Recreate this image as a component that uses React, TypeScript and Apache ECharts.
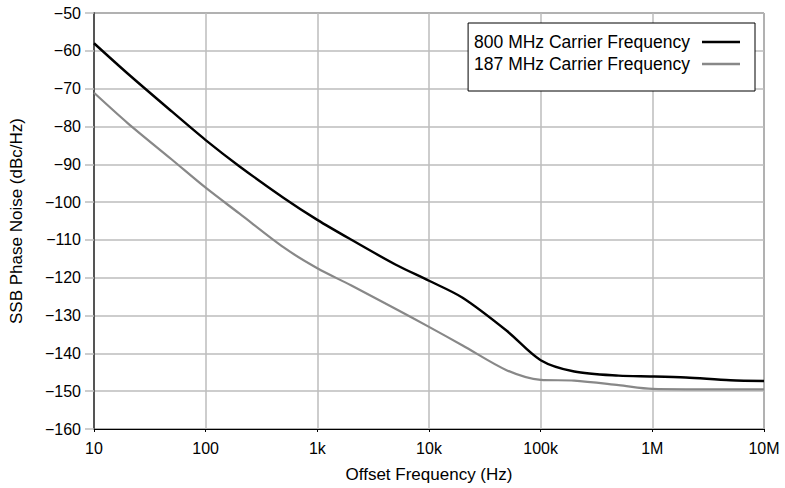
import React, { useEffect, useRef } from "react";
import * as echarts from "echarts";

const FONT = "'Liberation Sans', Arial, Helvetica, sans-serif";

const freqs = [10, 20, 50, 100, 200, 500, 1000, 2000, 5000, 10000, 20000, 50000, 100000, 200000, 500000, 1000000, 2000000, 5000000, 10000000];
const noise800 = [-58.0, -66.0, -76.1, -83.6, -90.5, -98.9, -104.7, -109.9, -116.5, -120.8, -125.3, -134.1, -141.8, -144.8, -145.9, -146.1, -146.4, -147.1, -147.3];
const noise187 = [-71.1, -79.1, -88.8, -96.2, -103.0, -112.0, -117.5, -122.0, -128.2, -133.0, -137.9, -144.5, -147.0, -147.2, -148.4, -149.4, -149.5, -149.5, -149.5];

const xTickLabels: Record<string, string> = {
  "10": "10", "100": "100", "1000": "1k", "10000": "10k", "100000": "100k", "1000000": "1M", "10000000": "10M",
};

const seriesNames = ["800 MHz Carrier Frequency", "187 MHz Carrier Frequency"];

export default function App() {
  const ref = useRef<HTMLDivElement>(null);
  useEffect(() => {
    if (!ref.current) return;
    const chart = echarts.init(ref.current, undefined, { renderer: "svg" });
    const mk = (f: number[], v: number[]) => f.map((x, i) => [x, v[i]]);
    chart.setOption({
      animation: false,
      backgroundColor: "#fff",
      textStyle: { fontFamily: FONT },
      grid: { left: 89, right: 21, top: 13, bottom: 57, show: true, borderColor: "#222", borderWidth: 1 },
      legend: {
        orient: "vertical",
        right: 30,
        top: 23,
        align: "right",
        backgroundColor: "#fff",
        borderColor: "#000",
        borderWidth: 1,
        borderRadius: 0,
        padding: [10, 15, 18, 6],
        itemGap: 4,
        itemWidth: 38,
        itemHeight: 2.5,
        icon: "rect",
        textStyle: { fontFamily: FONT, fontSize: 17.5, color: "#000", padding: [0, 7, 0, 0] },
        data: seriesNames,
      },
      xAxis: {
        type: "log",
        logBase: 10,
        min: 10,
        max: 10000000,
        name: "Offset Frequency (Hz)",
        nameLocation: "middle",
        nameGap: 37,
        nameTextStyle: { fontFamily: FONT, fontSize: 17, color: "#000" },
        axisLine: { show: true, lineStyle: { color: "#000", width: 1 } },
        axisTick: { show: true, length: 3, lineStyle: { color: "#000" } },
        minorTick: { show: false },
        axisLabel: {
          fontFamily: FONT,
          fontSize: 16,
          color: "#000",
          margin: 11,
          formatter: (v: number) => xTickLabels[String(Math.round(v))] ?? "",
        },
        splitLine: { show: true, lineStyle: { color: "#bdbdbd", width: 1.5 } },
      },
      yAxis: {
        type: "value",
        min: -160,
        max: -50,
        interval: 10,
        name: "SSB Phase Noise (dBc/Hz)",
        nameLocation: "middle",
        nameGap: 69,
        nameTextStyle: { fontFamily: FONT, fontSize: 17, color: "#000" },
        axisLine: { show: true, lineStyle: { color: "#555", width: 2 } },
        axisTick: { show: true, length: 9, lineStyle: { color: "#bdbdbd", width: 1.5 } },
        axisLabel: {
          fontFamily: FONT,
          fontSize: 16,
          color: "#000",
          margin: 13,
          formatter: (v: number) => String(v).replace("-", "\u2212"),
        },
        splitLine: { show: true, lineStyle: { color: "#bdbdbd", width: 1.5 } },
      },
      series: [
        {
          name: seriesNames[0],
          type: "line",
          symbol: "none",
          smooth: 0.3,
          data: mk(freqs, noise800),
          lineStyle: { color: "#000", width: 2.4 },
          itemStyle: { color: "#000" },
          z: 3,
        },
        {
          name: seriesNames[1],
          type: "line",
          symbol: "none",
          smooth: 0.3,
          data: mk(freqs, noise187),
          lineStyle: { color: "#888", width: 2.2 },
          itemStyle: { color: "#888" },
          z: 2,
        },
      ],
    });
    return () => chart.dispose();
  }, []);
  return <div ref={ref} style={{ position: "fixed", left: 0, top: 0, width: 785, height: 488 }} />;
}
